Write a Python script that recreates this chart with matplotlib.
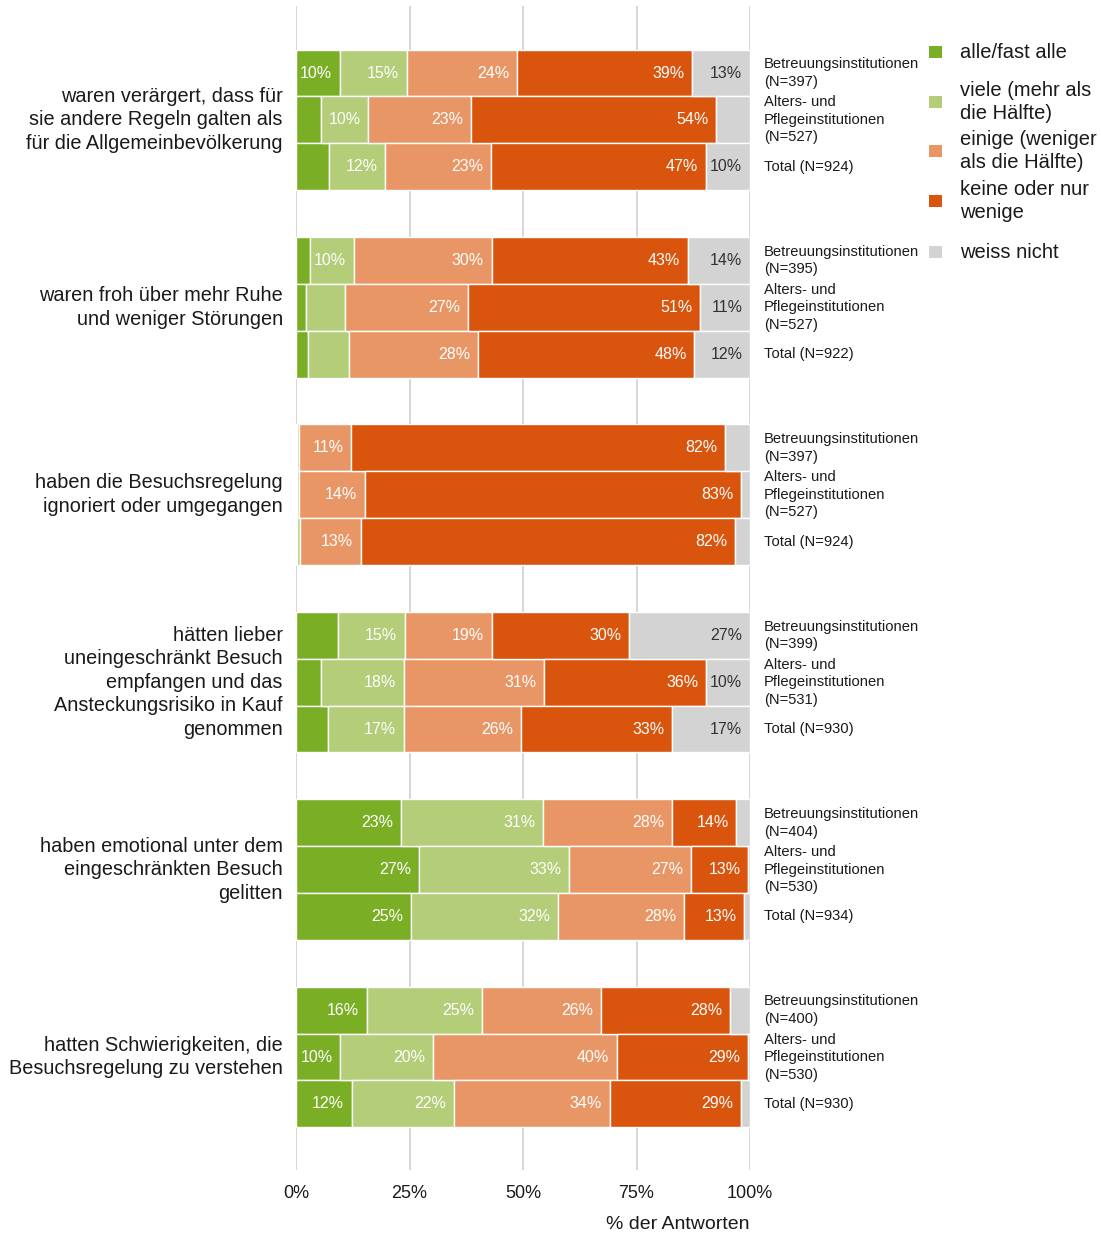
import matplotlib
matplotlib.use("Agg")
import matplotlib.pyplot as plt
from matplotlib.patches import Rectangle
import numpy as np

plt.rcParams['font.family'] = ['Liberation Sans', 'DejaVu Sans']

questions = [
    "waren verärgert, dass für\nsie andere Regeln galten als\nfür die Allgemeinbevölkerung",
    "waren froh über mehr Ruhe\nund weniger Störungen",
    "haben die Besuchsregelung\nignoriert oder umgegangen",
    "hätten lieber\nuneingeschränkt Besuch\nempfangen und das\nAnsteckungsrisiko in Kauf\ngenommen",
    "haben emotional unter dem\neingeschränkten Besuch\ngelitten",
    "hatten Schwierigkeiten, die\nBesuchsregelung zu verstehen",
]

bar_labels = [
    ["Betreuungsinstitutionen\n(N=397)", "Alters- und\nPflegeinstitutionen\n(N=527)", "Total (N=924)"],
    ["Betreuungsinstitutionen\n(N=395)", "Alters- und\nPflegeinstitutionen\n(N=527)", "Total (N=922)"],
    ["Betreuungsinstitutionen\n(N=397)", "Alters- und\nPflegeinstitutionen\n(N=527)", "Total (N=924)"],
    ["Betreuungsinstitutionen\n(N=399)", "Alters- und\nPflegeinstitutionen\n(N=531)", "Total (N=930)"],
    ["Betreuungsinstitutionen\n(N=404)", "Alters- und\nPflegeinstitutionen\n(N=530)", "Total (N=934)"],
    ["Betreuungsinstitutionen\n(N=400)", "Alters- und\nPflegeinstitutionen\n(N=530)", "Total (N=930)"],
]

categories = ["alle/fast alle", "viele (mehr als\ndie Hälfte)", "einige (weniger\nals die Hälfte)",
              "keine oder nur\nwenige", "weiss nicht"]
colors = ["#7aaf25", "#b3cd78", "#e99666", "#d9540d", "#d3d3d3"]
text_colors = ["white", "white", "white", "white", "#333333"]

# per category: values for 18 bars (6 questions x 3 groups)
alle = [9.6, 5.5, 7.3,   3.1, 2.2, 2.6,   0.3, 0.2, 0.3,   9.3, 5.5, 7.0,   23.1, 27.1, 25.3,  15.6, 9.7, 12.3]
viele = [14.8, 10.4, 12.3, 9.6, 8.6, 9.0,  0.4, 0.5, 0.6,   14.6, 18.3, 16.7, 31.4, 33.0, 32.4, 25.4, 20.5, 22.4]
einige = [24.2, 22.7, 23.3, 30.4, 27.1, 28.4, 11.4, 14.4, 13.4, 19.2, 30.8, 25.8, 28.4, 26.9, 27.8, 26.2, 40.4, 34.4]
keine = [38.6, 53.9, 47.4, 43.2, 51.1, 47.7, 82.4, 82.9, 82.4, 30.2, 35.7, 33.4, 14.1, 12.6, 13.2, 28.4, 29.0, 28.9]
weiss = [12.8, 7.5, 9.7,  13.7, 11.0, 12.3, 5.5, 2.0, 3.3,   26.7, 9.7, 17.1,  3.0, 0.4, 1.3,   4.4, 0.4, 2.0]

series = [alle, viele, einige, keine, weiss]
xticks = [0, 25, 50, 75, 100]
xticklabels = ["0%", "25%", "50%", "75%", "100%"]

W, H = 1101, 1234
fig = plt.figure(figsize=(W / 100, H / 100), dpi=100)
ax = fig.add_axes([296 / W, 1 - 1170 / H, (750 - 296) / W, (1170 - 6) / H])

ypos = []
for g in range(6):
    for b in range(3):
        ypos.append(g * 4 + b)
ypos = np.array(ypos)

left = np.zeros(len(ypos))
for ci, vals in enumerate(series):
    vals = np.array(vals)
    ax.barh(ypos, vals, left=left, height=1.0, color=colors[ci], edgecolor="white",
            linewidth=1.0, zorder=3)
    for y, l, v in zip(ypos, left, vals):
        if round(v) >= 10:
            ax.annotate(f"{round(v)}%", xy=(l + v, y), xytext=(-5.5, 0), textcoords="offset points",
                        ha="right", va="center", color=text_colors[ci], fontsize=11.5, zorder=4)
    left = left + vals

ax.set_xlim(0, 100)
ax.set_ylim(23.41, -1.43)
ax.set_xticks(xticks)
ax.set_xticklabels(xticklabels, fontsize=13, color="#1a1a1a")
ax.tick_params(axis="x", length=0, pad=11)
ax.set_yticks([])
for s in ax.spines.values():
    s.set_visible(False)
ax.grid(axis="x", color="#cccccc", linewidth=1.1, zorder=0)
ax.set_axisbelow(True)
ax.set_xlabel("% der Antworten", fontsize=14, color="#1a1a1a", loc="right", labelpad=10)

# question labels
for g, q in enumerate(questions):
    ax.annotate(q, xy=(0, g * 4 + 1), xycoords="data", xytext=(-9.5, 0), textcoords="offset points",
                ha="right", va="center", fontsize=14.3, color="#1a1a1a", linespacing=1.3)

# bar group labels on right
for g in range(6):
    for b in range(3):
        ax.annotate(bar_labels[g][b], xy=(100, g * 4 + b), xycoords="data", xytext=(10, 0),
                    textcoords="offset points", ha="left", va="center", fontsize=10.6,
                    color="#1a1a1a", linespacing=1.32, annotation_clip=False)

# legend (manual)
leg_y = [52, 102, 151, 201, 252]
for ci, lab in enumerate(categories):
    yc = leg_y[ci]
    fig.add_artist(Rectangle((929 / W, 1 - (yc + 6) / H), 13 / W, 12 / H,
                             transform=fig.transFigure, facecolor=colors[ci], edgecolor="none"))
    fig.text(960 / W, 1 - yc / H, lab, ha="left", va="center", fontsize=14.5,
             color="#1a1a1a", linespacing=1.3)

fig.savefig("out.png", dpi=100, facecolor="white")
